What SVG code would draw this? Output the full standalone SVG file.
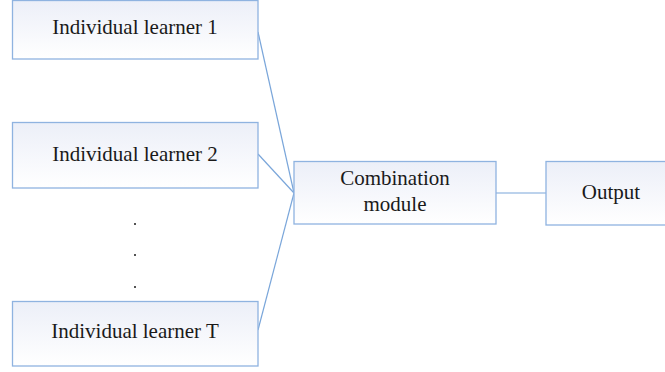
<svg xmlns="http://www.w3.org/2000/svg" width="665" height="372" viewBox="0 0 665 372">
<defs>
<linearGradient id="g" x1="0" y1="0" x2="0" y2="1">
<stop offset="0" stop-color="#eceff8"/>
<stop offset="1" stop-color="#ffffff"/>
</linearGradient>
<style>
.box{fill:url(#g);stroke:#8fb3e0;stroke-width:1.3}
.t{font-family:"Liberation Serif","DejaVu Serif",serif;font-size:21px;fill:#1a1a1a;text-anchor:middle}
.c{stroke:#7aa6da;stroke-width:1.2;fill:none}
</style>
</defs>
<rect width="665" height="372" fill="#ffffff"/>
<g id="connectors">
<line class="c" x1="258" y1="32" x2="294" y2="193"/>
<line class="c" x1="258" y1="154" x2="294" y2="193"/>
<line class="c" x1="258" y1="330" x2="294" y2="193"/>
<line class="c" x1="496" y1="193" x2="546" y2="193"/>
</g>
<g id="learner1">
<rect class="box" x="12.5" y="0.5" width="245.5" height="58.5"/>
<text class="t" x="135" y="34">Individual learner 1</text>
</g>
<g id="learner2">
<rect class="box" x="12.5" y="122.5" width="245.5" height="65.5"/>
<text class="t" x="135" y="161">Individual learner 2</text>
</g>
<g id="dots">
<circle cx="135" cy="224" r="1" fill="#1a1a1a"/>
<circle cx="135" cy="255" r="1" fill="#1a1a1a"/>
<circle cx="135" cy="287" r="1" fill="#1a1a1a"/>
</g>
<g id="learnerT">
<rect class="box" x="12.5" y="301.5" width="245.5" height="64.5"/>
<text class="t" x="135" y="338">Individual learner T</text>
</g>
<g id="combination">
<rect class="box" x="294" y="161.5" width="202" height="62.5"/>
<text class="t" x="395" y="185">Combination</text>
<text class="t" x="395" y="210.5">module</text>
</g>
<g id="output">
<rect class="box" x="546" y="161.5" width="125" height="63.5"/>
<text class="t" x="611" y="199">Output</text>
</g>
</svg>
